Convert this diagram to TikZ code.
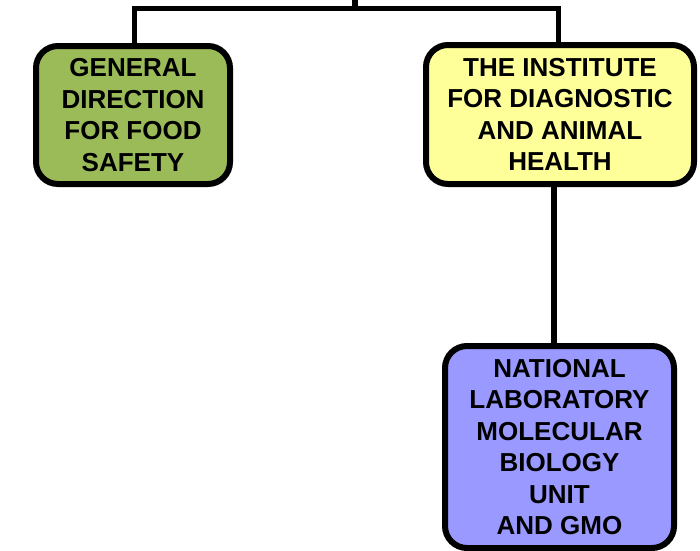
\documentclass[tikz,border=0pt]{standalone}
\usepackage{fontspec}
\setmainfont{Liberation Sans}
\definecolor{boxgreen}{HTML}{9BBB59}
\definecolor{boxyellow}{HTML}{FFFF99}
\definecolor{boxblue}{HTML}{9999FF}
\tikzset{
  orgbox/.style={draw=black, line width=6pt, rounded corners=22pt, inner sep=0pt,
    align=center, font=\fontsize{26}{31.5}\selectfont\bfseries, text=black},
  link/.style={draw=black, line width=5.5pt}
}
\begin{document}
\begin{tikzpicture}[x=1pt,y=-1pt]
\useasboundingbox (0,0) rectangle (700,550);
\node[orgbox, fill=boxgreen, minimum width=194pt, minimum height=138pt] (gd) at (133,115)
  {GENERAL\\DIRECTION\\FOR FOOD\\SAFETY};
\node[orgbox, fill=boxyellow, minimum width=268pt, minimum height=139pt] (inst) at (560,114.5)
  {THE INSTITUTE\\FOR DIAGNOSTIC\\AND ANIMAL\\HEALTH};
\node[orgbox, fill=boxblue, minimum width=229pt, minimum height=202pt] (nat) at (559.5,447)
  {NATIONAL\\LABORATORY\\MOLECULAR\\BIOLOGY\\UNIT\\AND GMO};
\coordinate (top) at (355,-2);
\coordinate (bar) at (355,8.5);
\draw[link] (top) -- (bar);
\draw[link] (gd.north -| 134.5,0) |- (bar -| 200,0) -- (bar) -| (inst.north -| 558.5,0);
\draw[link] (inst.south -| 554,0) -- (nat.north -| 554,0);
\end{tikzpicture}
\end{document}
